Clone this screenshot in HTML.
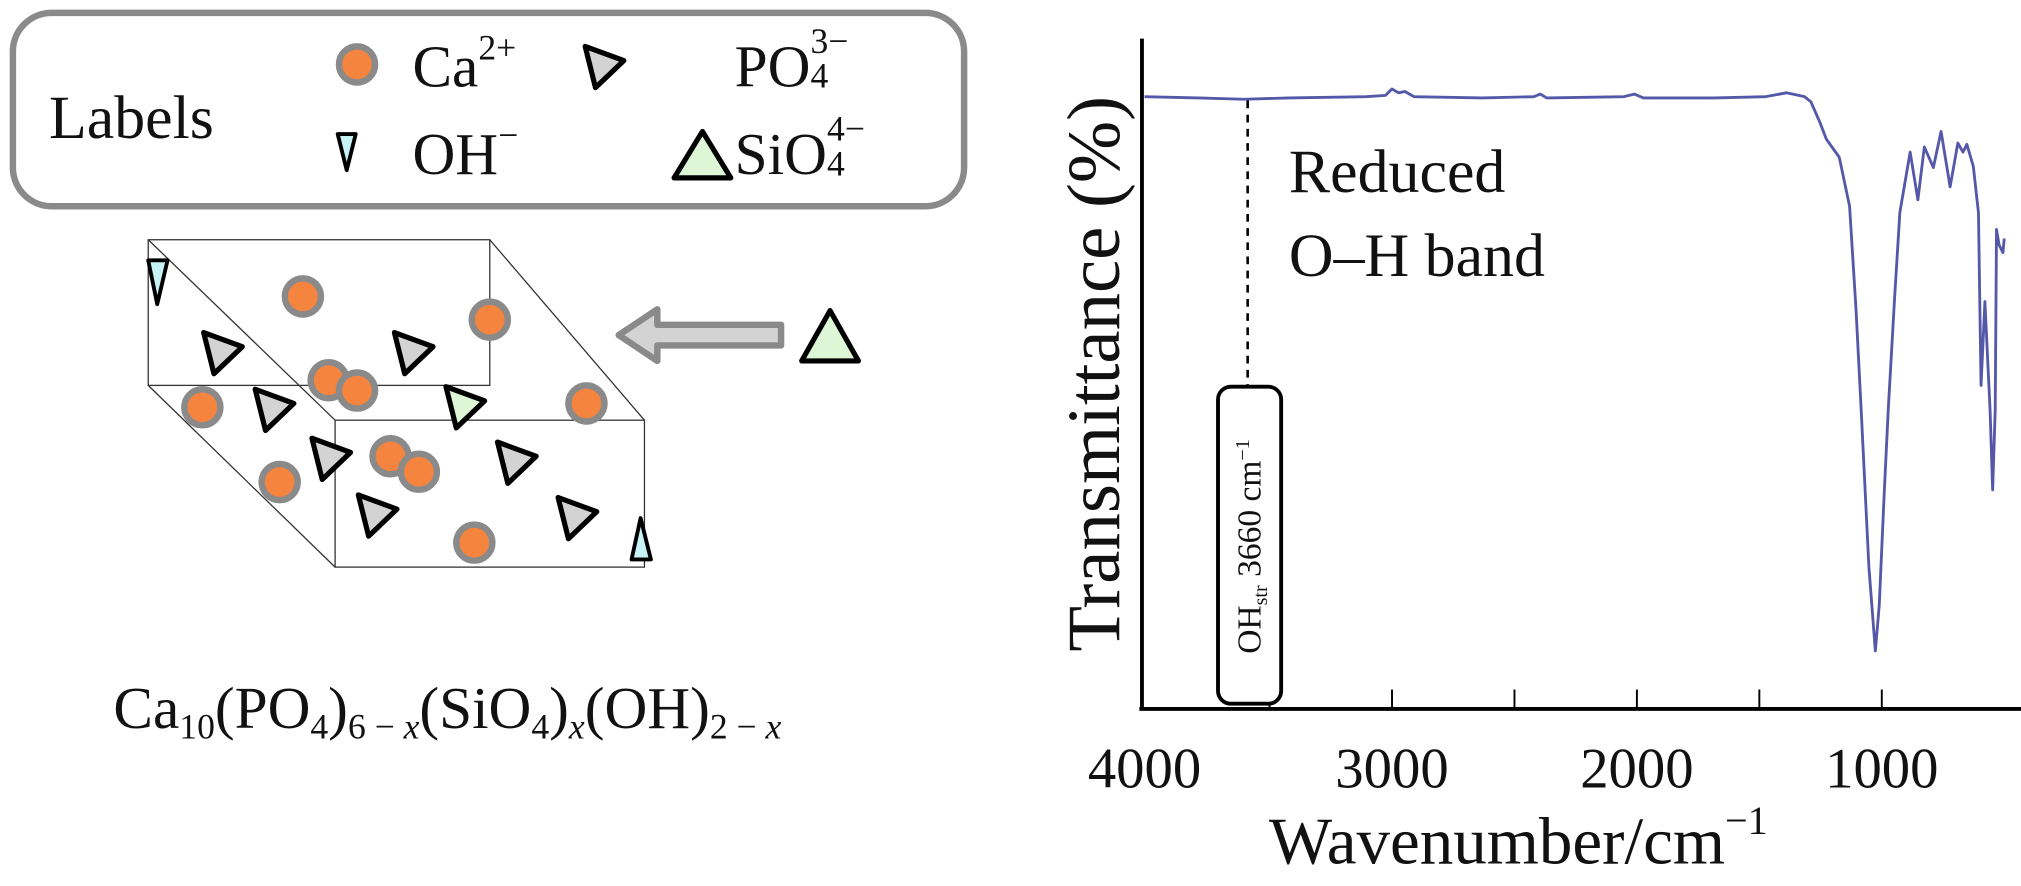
<!DOCTYPE html>
<html><head><meta charset="utf-8"><style>
html,body{margin:0;padding:0;background:#fff;width:2021px;height:886px;overflow:hidden;}
#c{position:absolute;left:0;top:0;width:1568px;height:687px;transform:scale(1.2889);transform-origin:0 0;}
#c svg{position:absolute;left:0;top:0;}
.t{position:absolute;font-family:"Liberation Serif","Noto Serif CJK SC",serif;font-weight:normal;color:#111;line-height:1;white-space:nowrap;}
.s{font-size:0.6em;position:relative;}
.st{display:inline-block;vertical-align:baseline;position:relative;font-size:0.6em;line-height:1;width:1.2em;}
.st span{position:absolute;left:0;}
</style></head><body>
<div id="c">
<svg width="1568" height="687" viewBox="0 0 1568 687" xmlns="http://www.w3.org/2000/svg">
<defs>
<g id="ca"><circle r="14" fill="#F5843F" stroke="#8a8a8a" stroke-width="5"/></g>
<g id="po"><path d="M-14,-14 L16,-3 L-6,18 Z" fill="#d3d3d3" stroke="#000" stroke-width="4" stroke-linejoin="round"/></g>
</defs>
<rect x="10" y="10" width="738" height="150" rx="30" fill="#fff" stroke="#8a8a8a" stroke-width="5"/>
<use href="#ca" x="277" y="50"/>
<use href="#po" x="468" y="50"/>
<path d="M262,104 L276,104 L269,132 Z" fill="#c8f3f6" stroke="#000" stroke-width="3" stroke-linejoin="round"/>
<path d="M545,102 L567,138 L523,138 Z" fill="#ddf7d6" stroke="#000" stroke-width="4" stroke-linejoin="round"/>
<g fill="none" stroke="#333" stroke-width="1">
<rect x="115" y="186" width="265" height="113"/>
<rect x="260" y="326" width="240" height="114"/>
<line x1="115" y1="186" x2="260" y2="326"/>
<line x1="380" y1="186" x2="500" y2="326"/>
<line x1="115" y1="299" x2="260" y2="440"/>
</g>
<path d="M115,202 L130,202 L122,236 Z" fill="#c8f3f6" stroke="#000" stroke-width="3" stroke-linejoin="round"/>
<path d="M497,402 L505,434 L490,434 Z" fill="#c8f3f6" stroke="#000" stroke-width="3" stroke-linejoin="round"/>
<use href="#ca" x="235" y="230"/><use href="#ca" x="380" y="248"/>
<use href="#ca" x="157" y="316"/><use href="#ca" x="255" y="295"/><use href="#ca" x="277" y="303"/>
<use href="#ca" x="455" y="313"/><use href="#ca" x="217" y="374"/><use href="#ca" x="303" y="354"/>
<use href="#ca" x="325" y="366"/><use href="#ca" x="368" y="421"/>
<use href="#po" x="172" y="272"/><use href="#po" x="320" y="272"/><use href="#po" x="212" y="316"/>
<use href="#po" x="256" y="354"/><use href="#po" x="400" y="357"/><use href="#po" x="292" y="398"/>
<use href="#po" x="447" y="400"/>
<path d="M346,300 L376,311 L354,332 Z" fill="#ddf7d6" stroke="#000" stroke-width="4" stroke-linejoin="round"/>
<path d="M606,252 L510,252 L510,240 L480,260 L510,280 L510,268 L606,268 Z" fill="#d3d3d3" stroke="#8a8a8a" stroke-width="5" stroke-linejoin="round"/>
<path d="M644,241 L666,280 L622,280 Z" fill="#ddf7d6" stroke="#000" stroke-width="4" stroke-linejoin="round"/>
<g stroke="#000" stroke-width="3" fill="none">
<line x1="886" y1="30" x2="886" y2="551"/>
<line x1="884" y1="550" x2="1568" y2="550"/>
</g>
<g stroke="#000" stroke-width="1.5">
<line x1="985" y1="550" x2="985" y2="535"/><line x1="1080" y1="550" x2="1080" y2="535"/>
<line x1="1175" y1="550" x2="1175" y2="535"/><line x1="1270" y1="550" x2="1270" y2="535"/>
<line x1="1365" y1="550" x2="1365" y2="535"/><line x1="1460" y1="550" x2="1460" y2="535"/>
</g>
<line x1="968" y1="78" x2="968" y2="300" stroke="#000" stroke-width="2" stroke-dasharray="6,5"/>
<rect x="945" y="300" width="49" height="246" rx="10" fill="#fff" stroke="#000" stroke-width="3"/>
<polyline fill="none" stroke="#5558A8" stroke-width="2.2" stroke-linejoin="round" points="888,75 930,76 965,77 1000,76 1060,75 1075,74 1080,69 1085,72 1090,71 1097,75 1150,76 1190,75 1195,73 1200,76 1260,75 1268,73 1275,76 1330,76 1370,75 1386,72 1400,75 1405,79 1412,95 1417,108 1427,122 1435,160 1440,240 1444,318 1450,440 1455,505 1458,470 1462,380 1465,318 1470,230 1474,165 1482,118 1488,155 1493,114 1500,130 1506,102 1513,145 1519,111 1523,118 1526,112 1531,129 1535,165 1537,299 1540,234 1544,318 1546,380 1548,318 1549,178 1551,190 1554,196 1555,185"/>
</svg>

<div class="t" style="font-size:48px;left:38px;top:68px;">Labels</div>
<div class="t" style="font-size:46px;left:320px;top:29px;">Ca<span class="s" style="top:-0.75em">2+</span></div>
<div class="t" style="font-size:46px;left:570px;top:29px;">PO<span class="st"><span style="top:-0.95em">3−</span><span style="top:0.05em">4</span>&nbsp;</span></div>
<div class="t" style="font-size:46px;left:320px;top:97px;">OH<span class="s" style="top:-0.75em">−</span></div>
<div class="t" style="font-size:46px;left:570px;top:97px;">SiO<span class="st"><span style="top:-0.95em">4−</span><span style="top:0.05em">4</span>&nbsp;</span></div>

<div class="t" style="font-size:46px;left:88px;top:527px;">Ca<span class="s" style="top:0.3em">10</span>(PO<span class="s" style="top:0.3em">4</span>)<span class="s" style="top:0.3em">6 − <i>x</i></span>(SiO<span class="s" style="top:0.3em">4</span>)<span class="s" style="top:0.3em"><i>x</i></span>(OH)<span class="s" style="top:0.3em">2 − <i>x</i></span></div>

<div class="t" style="font-size:44px;left:888px;top:575px;transform:translateX(-50%);">4000</div>
<div class="t" style="font-size:44px;left:1080px;top:575px;transform:translateX(-50%);">3000</div>
<div class="t" style="font-size:44px;left:1270px;top:575px;transform:translateX(-50%);">2000</div>
<div class="t" style="font-size:44px;left:1460px;top:575px;transform:translateX(-50%);">1000</div>

<div class="t" style="font-size:52px;left:1178px;top:628px;transform:translateX(-50%);">Wavenumber/cm<span class="s" style="top:-0.75em">−1</span></div>

<div class="t" style="font-size:58px;left:849px;top:290px;transform:translate(-50%,-50%) rotate(-90deg);">Transmittance (%)</div>

<div class="t" style="font-size:26px;left:970px;top:424px;transform:translate(-50%,-50%) rotate(-90deg);">OH<span class="s" style="top:0.3em">str</span> 3660 cm<span class="s" style="top:-0.6em">−1</span></div>

<div class="t" style="font-size:48px;left:1000px;top:110px;">Reduced</div>
<div class="t" style="font-size:48px;left:1000px;top:175px;">O–H band</div>
</div>
</body></html>
